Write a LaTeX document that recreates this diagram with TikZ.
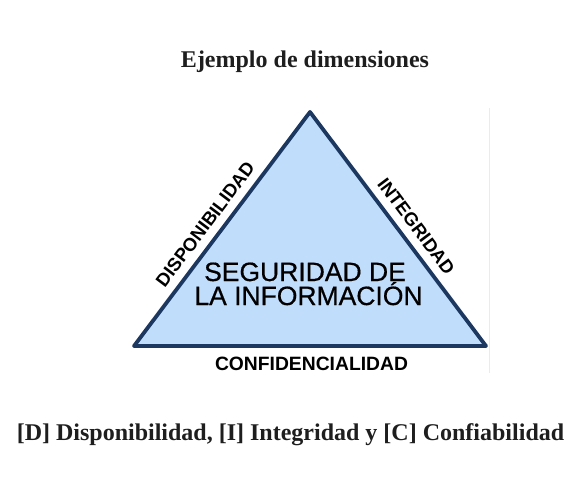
\documentclass[tikz,border=0pt]{standalone}
\usepackage{fontspec}
\setmainfont{Liberation Serif}
\newfontfamily\arialf{Liberation Sans}
\newfontfamily\arialmed[FakeBold=0.6]{Liberation Sans}
\definecolor{trifill}{RGB}{192,221,252}
\definecolor{triedge}{RGB}{28,55,96}
\definecolor{txt}{RGB}{30,30,30}
\begin{document}
\begin{tikzpicture}[x=1pt,y=-1pt,
  serifbold/.style={font=\fontsize{24}{28}\selectfont\bfseries, text=txt, inner sep=0pt},
  edgelabel/.style={font=\arialf\fontsize{18.5}{20}\selectfont\bfseries, text=black, inner sep=0pt},
  centerlabel/.style={font=\arialmed\fontsize{26.5}{25}\selectfont, text=black, inner sep=0pt, anchor=base},
  tri/.style={draw=triedge, fill=trifill, line width=3.8pt, line join=round}]
\useasboundingbox (0,0) rectangle (581,477);
\coordinate (T) at (310,112);
\coordinate (BL) at (134,346);
\coordinate (BR) at (486,346);
\draw[black!8, line width=0.8pt] (489,108) coordinate (g1) -- (489,373) coordinate (g2);
\draw[tri] (T) -- (BR) -- (BL) -- cycle;
\node[serifbold] (title) at (305,62) {Ejemplo de dimensiones};
\node[centerlabel] (center1) at (305,281) {SEGURIDAD DE};
\node[centerlabel] (center2) at (308.5,305) {LA INFORMACIÓN};
\path (BL) -- (T) node[edgelabel, pos=0.478, sloped, above=9.5pt] (disp) {DISPONIBILIDAD};
\path (T) -- (BR) node[edgelabel, pos=0.53, sloped, above=9.5pt] (integ) {INTEGRIDAD};
\node[edgelabel, font=\arialf\fontsize{19.3}{20}\selectfont\bfseries, anchor=base] (conf) at (311.5,370.5) {CONFIDENCIALIDAD};
\node[serifbold] (cap) at (290.5,435) {[D] Disponibilidad, [I] Integridad y [C] Confiabilidad};
\end{tikzpicture}
\end{document}
